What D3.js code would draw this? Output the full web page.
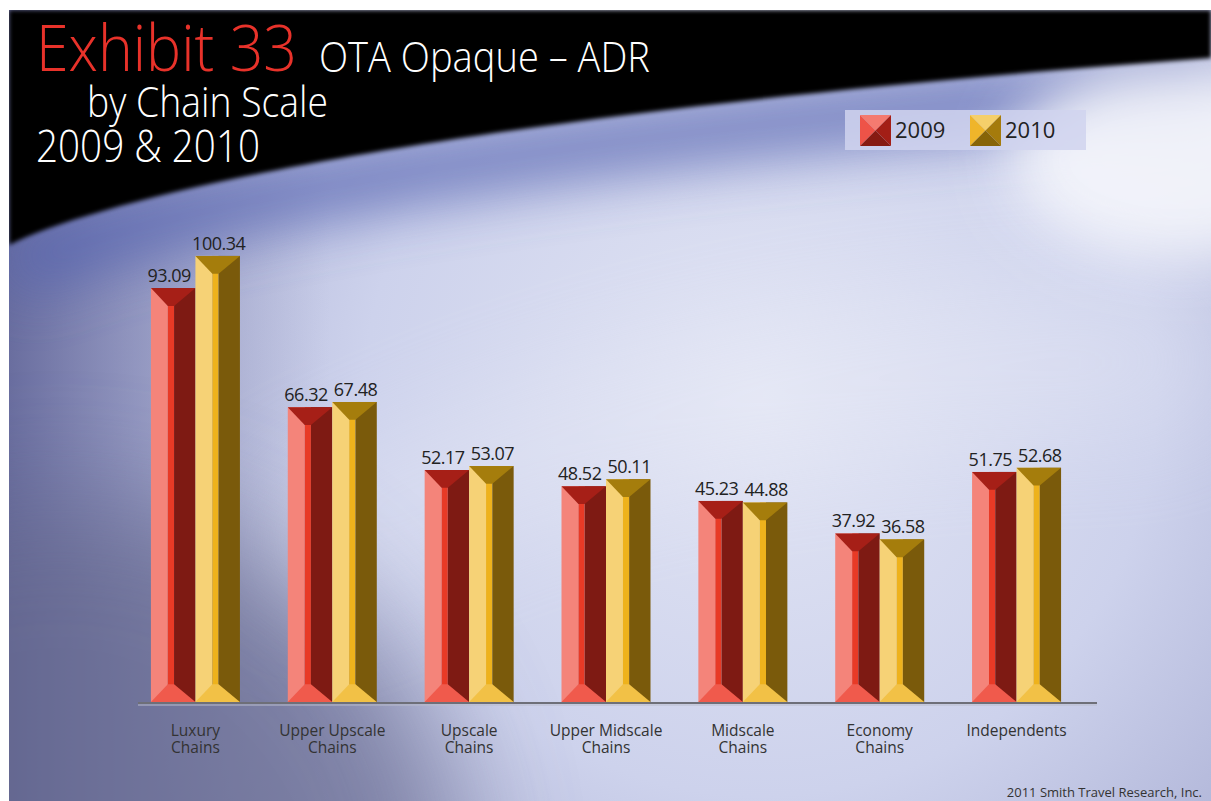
<!DOCTYPE html>
<html><head><meta charset="utf-8">
<script src="https://cdn.jsdelivr.net/npm/d3@7"></script>
<style>html,body{margin:0;padding:0;background:#fff;overflow:hidden}</style>
</head><body>
<svg id="chart" width="1211" height="801"></svg>
<script>
// ---- data ----
const categories = ["Luxury Chains", "Upper Upscale Chains", "Upscale Chains", "Upper Midscale Chains", "Midscale Chains", "Economy Chains", "Independents"];
const categoryLines = [["Luxury", "Chains"], ["Upper Upscale", "Chains"], ["Upscale", "Chains"], ["Upper Midscale", "Chains"], ["Midscale", "Chains"], ["Economy", "Chains"], ["Independents"]];
const years = ["2009", "2010"];
const adr2009 = [93.09, 66.32, 52.17, 48.52, 45.23, 37.92, 51.75];
const adr2010 = [100.34, 67.48, 53.07, 50.11, 44.88, 36.58, 52.68];

// ---- palette for the bevelled bars (left face, centre ridge, right face, top cap, bottom cap) ----
const shades = {
  "2009": {left: "#f4847a", mid: "#e83a26", right: "#7e1a13", top: "#a61f17", bottom: "#f05a4c",
           iconTop: "#f47a70", iconLeft: "#ee5348", iconRight: "#a31e16", iconBottom: "#861a12", labelShift: -4},
  "2010": {left: "#f6d276", mid: "#eeb21c", right: "#7a5a0b", top: "#a57d0c", bottom: "#f2c146",
           iconTop: "#f5cf6a", iconLeft: "#efb52a", iconRight: "#a57b0c", iconBottom: "#876408", labelShift: 1}
};

const W = 1211, H = 801;
const svg = d3.select("#chart");
const defs = svg.append("defs");

// ---- background ----
const blur = (id, sd) => defs.append("filter").attr("id", id)
  .attr("x", "-50%").attr("y", "-50%").attr("width", "200%").attr("height", "200%")
  .append("feGaussianBlur").attr("stdDeviation", sd);
blur("b60", 60); blur("b30", 30); blur("b12", 12); blur("b3", 2);

const glow = defs.append("radialGradient").attr("id", "glow")
  .attr("gradientUnits", "userSpaceOnUse").attr("cx", 760).attr("cy", 400).attr("r", 720);
glow.append("stop").attr("offset", 0).attr("stop-color", "#e2e5f4");
glow.append("stop").attr("offset", 0.55).attr("stop-color", "#cdd2ec");
glow.append("stop").attr("offset", 1).attr("stop-color", "#a7acd2");

const leftShade = defs.append("linearGradient").attr("id", "leftShade")
  .attr("gradientUnits", "userSpaceOnUse").attr("x1", 9).attr("y1", 0).attr("x2", 330).attr("y2", 0);
leftShade.append("stop").attr("offset", 0).attr("stop-color", "#5a5e92").attr("stop-opacity", 0.8);
leftShade.append("stop").attr("offset", 0.4).attr("stop-color", "#7276a6").attr("stop-opacity", 0.5);
leftShade.append("stop").attr("offset", 1).attr("stop-color", "#8b8eb3").attr("stop-opacity", 0);

const panel = svg.append("g");
panel.append("rect").attr("x", 9).attr("y", 10).attr("width", W - 9).attr("height", H - 10).attr("fill", "url(#glow)");
defs.append("clipPath").attr("id", "panelClip").append("rect")
  .attr("x", 9).attr("y", 10).attr("width", W - 9).attr("height", H - 10);
const bg = panel.append("g").attr("clip-path", "url(#panelClip)");

// dark lower-left mass
bg.append("rect").attr("x", 9).attr("y", 10).attr("width", 330).attr("height", H)
  .attr("fill", "url(#leftShade)");
bg.append("ellipse").attr("cx", 60).attr("cy", 880).attr("rx", 400).attr("ry", 380)
  .attr("fill", "#64668c").attr("opacity", 0.7).attr("filter", "url(#b60)");
// pale streak across the middle
bg.append("path").attr("d", "M250,520 C 500,380 800,300 1211,300 L1211,420 C 800,420 500,480 300,620 Z")
  .attr("fill", "#eef0f9").attr("opacity", 0.35).attr("filter", "url(#b60)");

// blue band and white glow under the dark horizon
const horizon = "M9,245 C 120,190 500,110 1211,58";
bg.append("path").attr("d", horizon).attr("transform", "translate(0,26)")
  .attr("fill", "none").attr("stroke", "#5564b0").attr("stroke-width", 56).attr("opacity", 0.85)
  .attr("filter", "url(#b30)");
bg.append("ellipse").attr("cx", 1180).attr("cy", 160).attr("rx", 170).attr("ry", 100)
  .attr("fill", "#f6f7fc").attr("opacity", 0.9).attr("filter", "url(#b30)");
bg.append("path").attr("d", horizon + " L1211,10 L9,10 Z")
  .attr("fill", "#000").attr("filter", "url(#b3)");

// ---- scales ----
const x = d3.scalePoint().domain(categories).range([127, 1085]).padding(0.5);
const xYear = d3.scaleBand().domain(years).range([-44.5, 44.5]);
const y = d3.scaleLinear().domain([0, 100]).range([702, 257.4]);

// ---- axis baseline ----
const axisG = svg.append("g");
axisG.append("line").attr("x1", 138).attr("x2", 1097).attr("y1", 703).attr("y2", 703)
  .attr("stroke", "#6e6f78").attr("stroke-width", 2);
axisG.append("line").attr("x1", 138).attr("x2", 1097).attr("y1", 705).attr("y2", 705)
  .attr("stroke", "#b9bccc").attr("stroke-width", 1);

// ---- bars ----
const rows = categories.map((c, i) => ({cat: c, lines: categoryLines[i],
  vals: [{year: "2009", v: adr2009[i]}, {year: "2010", v: adr2010[i]}]}));

function drawBar(g, x0, w, top, base, s) {
  const h = base - top;
  const lw = w * 0.38, cw = w * 0.14;
  const cap = Math.min(w * 0.4, h / 2);
  const cl = x0 + lw, cr = x0 + lw + cw, x1 = x0 + w;
  g.append("rect").attr("x", x0).attr("y", top).attr("width", lw).attr("height", h).attr("fill", s.left);
  g.append("rect").attr("x", cl).attr("y", top).attr("width", cw).attr("height", h).attr("fill", s.mid);
  g.append("rect").attr("x", cr).attr("y", top).attr("width", x1 - cr).attr("height", h).attr("fill", s.right);
  g.append("path").attr("d", `M${x0},${top}L${x1},${top}L${cr},${top + cap}L${cl},${top + cap}Z`).attr("fill", s.top);
  g.append("path").attr("d", `M${cl},${base - cap}L${cr},${base - cap}L${x1},${base}L${x0},${base}Z`).attr("fill", s.bottom);
}

const groups = svg.append("g").selectAll("g.cat").data(rows).join("g")
  .attr("class", "cat").attr("transform", d => `translate(${x(d.cat)},0)`);

groups.each(function (d) {
  const g = d3.select(this);
  d.vals.forEach(b => {
    const bx = xYear(b.year), bw = xYear.bandwidth();
    drawBar(g.append("g"), bx, bw, y(b.v), y(0), shades[b.year]);
    g.append("text").attr("x", bx + bw / 2 + shades[b.year].labelShift).attr("y", y(b.v) - 6)
      .attr("text-anchor", "middle").attr("font-family", "'Open Sans', sans-serif")
      .attr("font-size", 18).attr("letter-spacing", -0.5).attr("fill", "#222")
      .text(b.v.toFixed(2));
  });
  d.lines.forEach((ln, i) => g.append("text").attr("x", 0).attr("y", 736 + i * 17)
    .attr("text-anchor", "middle").attr("font-family", "'Open Sans', sans-serif")
    .attr("font-size", 15.5).attr("fill", "#333").text(ln));
});

// ---- legend ----
const legend = svg.append("g");
legend.append("rect").attr("x", 845).attr("y", 110).attr("width", 241).attr("height", 40)
  .attr("fill", "#d0d4ee").attr("opacity", 0.85);
const lx = d3.scaleOrdinal().domain(years).range([860, 970]);
years.forEach(yr => {
  const s = shades[yr], x0 = lx(yr), y0 = 115, sz = 31, cx = x0 + sz / 2, cy = y0 + sz / 2;
  const tri = (pts, fill) => legend.append("path").attr("d", "M" + pts.map(p => p.join(",")).join("L") + "Z").attr("fill", fill);
  tri([[x0, y0], [x0 + sz, y0], [cx, cy]], s.iconTop);
  tri([[x0, y0], [cx, cy], [x0, y0 + sz]], s.iconLeft);
  tri([[x0 + sz, y0], [x0 + sz, y0 + sz], [cx, cy]], s.iconRight);
  tri([[x0, y0 + sz], [cx, cy], [x0 + sz, y0 + sz]], s.iconBottom);
  legend.append("text").attr("x", x0 + sz + 4).attr("y", 138).attr("font-family", "'Open Sans', sans-serif")
    .attr("font-size", 22).attr("fill", "#222").text(yr);
});

// ---- titles ----
const title = (txt, xx, yy, size, len, fill) => svg.append("text").attr("x", xx).attr("y", yy)
  .attr("font-family", "'Open Sans', sans-serif").attr("font-weight", 300).attr("font-size", size)
  .attr("fill", fill).attr("textLength", len).attr("lengthAdjust", "spacingAndGlyphs").text(txt);
title("Exhibit 33", 36, 71, 64, 261, "#e8322a");
title("OTA Opaque \u2013 ADR", 319, 72, 42, 331, "#fff");
title("by Chain Scale", 87, 117, 42, 241, "#fff");
title("2009 & 2010", 36, 162, 44, 224, "#fff");

// ---- source note ----
svg.append("text").attr("x", 1202).attr("y", 797).attr("text-anchor", "end")
  .attr("font-family", "'Open Sans', sans-serif").attr("font-size", 13).attr("fill", "#333")
  .text("2011 Smith Travel Research, Inc.");
</script>
</body></html>
